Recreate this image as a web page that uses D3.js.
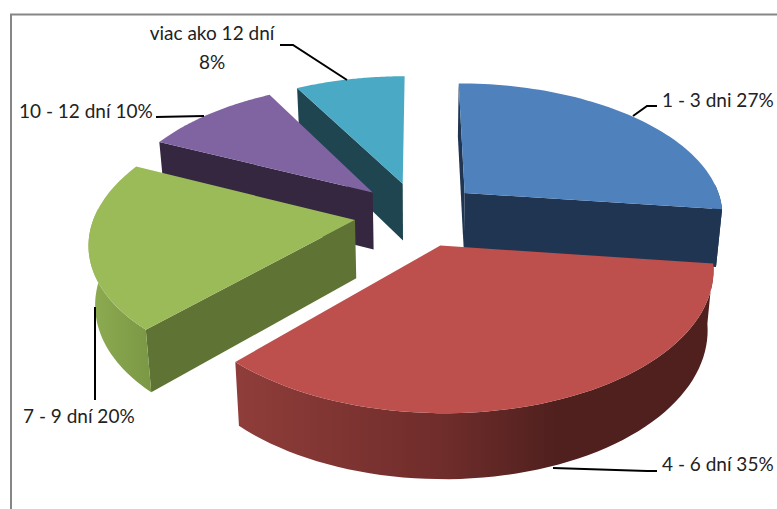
<!DOCTYPE html>
<html lang="sk">
<head>
<meta charset="utf-8">
<title>Trvanie v dnoch</title>
<script src="https://d3js.org/d3.v7.min.js"></script>
<style>
html, body { margin: 0; padding: 0; background: #fff; overflow: hidden; }
text { font-family: Lato, "Open Sans", sans-serif; font-size: 19px; fill: #222; }
</style>
</head>
<body>
<div id="chart"></div>
<script>
// values
var categories = ["1 - 3 dni", "4 - 6 dní", "7 - 9 dní", "10 - 12 dní", "viac ako 12 dní"];
var values = [27, 35, 20, 10, 8];
var topColors = ["#4f81bd", "#bd4f4c", "#9bbb59", "#8064a2", "#4aa9c4"];
var wallColors = ["#1f3551", "#4f201e", "#5f7335", "#35273f", "#1e4550"];
// slices further back get painted first
var paintOrder = [4, 3, 2, 0, 1];

var width = 777, height = 509;

// perspective set-up of the tilted pie
var cx = 418, cy = 214, rx = 260, ry = 132, persp = 0.15, depth = 58, explode = 0.245;

var svg = d3.select("#chart").append("svg")
  .attr("width", width)
  .attr("height", height);

// grey chart frame, runs off the picture to the right and bottom
svg.append("path")
  .attr("d", "M11," + height + "V14.5H" + width)
  .attr("fill", "none")
  .attr("stroke", "#868686")
  .attr("stroke-width", 2);

var defs = svg.append("defs");

var redGrad = defs.append("linearGradient").attr("id", "wall1")
  .attr("gradientUnits", "userSpaceOnUse")
  .attr("x1", 237).attr("x2", 716).attr("y1", 0).attr("y2", 0);
redGrad.append("stop").attr("offset", "0%").attr("stop-color", "#8f3d3a");
redGrad.append("stop").attr("offset", "44%").attr("stop-color", "#6e2c2a");
redGrad.append("stop").attr("offset", "67%").attr("stop-color", "#4f201e");
redGrad.append("stop").attr("offset", "100%").attr("stop-color", "#4f201e");

var greenGrad = defs.append("linearGradient").attr("id", "wall2")
  .attr("gradientUnits", "userSpaceOnUse")
  .attr("x1", 92).attr("x2", 152).attr("y1", 0).attr("y2", 0);
greenGrad.append("stop").attr("offset", "0%").attr("stop-color", "#8dab50");
greenGrad.append("stop").attr("offset", "100%").attr("stop-color", "#7a9745");

// X, Y are in pie radii, z is 0 on the top face and 1 on the bottom face
function project(X, Y, z) {
  var s = 1 / (1 - persp * Y);
  return [
    cx + X * rx * s * (1 - 0.02 * z),
    cy + Y * ry * s * (1 + 0.04 * z) + depth * z
  ];
}

var arcs = d3.pie().sort(null).value(function(d) { return d; })(values);
var line = d3.line();

function angleAt(d, t) {
  return d.startAngle + (d.endAngle - d.startAngle) * t;
}

function rim(d, t, z) {
  var mid = (d.startAngle + d.endAngle) / 2;
  var a = angleAt(d, t);
  return project(explode * Math.sin(mid) + Math.sin(a), -explode * Math.cos(mid) - Math.cos(a), z);
}

function apex(d, z) {
  var mid = (d.startAngle + d.endAngle) / 2;
  return project(explode * Math.sin(mid), -explode * Math.cos(mid), z);
}

var ts = d3.range(0, 61).map(function(i) { return i / 60; });

paintOrder.forEach(function(i) {
  var d = arcs[i];
  var g = svg.append("g").attr("class", "slice");

  // flat cut walls, only the ones turned towards the viewer
  if (Math.sin(d.startAngle) <= 0) {
    g.append("path")
      .attr("d", line([apex(d, 0), rim(d, 0, 0), rim(d, 0, 1), apex(d, 1)]) + "Z")
      .attr("fill", wallColors[i]);
  }
  if (Math.sin(d.endAngle) > 0) {
    g.append("path")
      .attr("d", line([apex(d, 0), rim(d, 1, 0), rim(d, 1, 1), apex(d, 1)]) + "Z")
      .attr("fill", wallColors[i]);
  }

  // outer curved wall, the back half of the rim never shows
  var front = ts.filter(function(t) { return Math.cos(angleAt(d, t)) < 0.1; });
  if (front.length > 1) {
    var outer = front.map(function(t) { return rim(d, t, 0); })
      .concat(front.slice().reverse().map(function(t) { return rim(d, t, 1); }));
    g.append("path")
      .attr("d", line(outer) + "Z")
      .attr("fill", (i == 1 || i == 2) ? "url(#wall" + i + ")" : wallColors[i]);
  }

  // top face
  var top = [apex(d, 0)].concat(ts.map(function(t) { return rim(d, t, 0); }));
  g.append("path")
    .attr("d", line(top) + "Z")
    .attr("fill", topColors[i]);
});

// data labels with their leader lines
var leaders = [
  [[633, 116], [647, 106], [657, 106]],
  [[553, 468], [647, 471], [657, 471]],
  [[95, 307], [95, 400]],
  [[204, 116], [156, 117]],
  [[347, 80], [293, 45], [280, 45]]
];
var labelSpots = [
  {x: 662, y: 107, anchor: "start"},
  {x: 662, y: 471, anchor: "start"},
  {x: 23, y: 423, anchor: "start"},
  {x: 19, y: 118, anchor: "start"}
];

svg.append("g").selectAll("path")
  .data(leaders)
  .enter().append("path")
    .attr("d", function(d) { return line(d); })
    .attr("fill", "none")
    .attr("stroke", "#000")
    .attr("stroke-width", 2);

labelSpots.forEach(function(p, i) {
  svg.append("text")
    .attr("x", p.x)
    .attr("y", p.y)
    .attr("text-anchor", p.anchor)
    .text(categories[i] + " " + values[i] + "%");
});

// the last label wraps on two lines
svg.append("text").attr("x", 212).attr("y", 40).attr("text-anchor", "middle").text(categories[4]);
svg.append("text").attr("x", 212).attr("y", 69).attr("text-anchor", "middle").text(values[4] + "%");

</script>
</body>
</html>
